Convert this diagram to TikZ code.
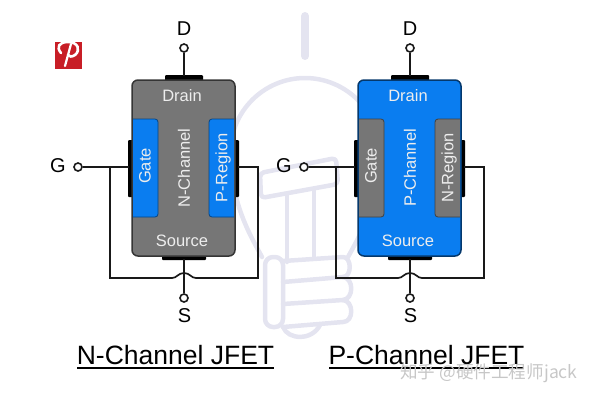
\documentclass[tikz,border=0pt]{standalone}
\usepackage{fontspec}
\setmainfont{Liberation Sans}
\newfontfamily\cjkfont{Noto Sans CJK SC}
\usetikzlibrary{arrows.meta,positioning,calc}
\definecolor{ChannelBlue}{RGB}{10,125,240}
\definecolor{BodyGray}{RGB}{118,118,118}
\definecolor{WireBlack}{RGB}{25,25,25}
\definecolor{BulbLine}{RGB}{228,228,240}
\definecolor{IconRed}{RGB}{200,30,38}
\tikzset{
  wire/.style={draw=WireBlack, line width=1.7pt},
  terminal/.style={circle, draw=WireBlack, fill=white, line width=1.6pt, minimum size=8pt, inner sep=0pt},
  pinlabel/.style={font=\fontsize{20}{20}\selectfont, text=black},
  partlabel/.style={font=\fontsize{16.5}{16.5}\selectfont, text=white!93!black, inner sep=0pt},
  titlelabel/.style={font=\fontsize{26.5}{26.5}\selectfont, text=black, inner sep=0pt},
  bulb/.style={draw=BulbLine, line width=4.5pt, line cap=round, line join=round},
  contact/.style={fill=black, rounded corners=1pt}
}
% one transistor: #1 x offset, #2 body colour, #3 region colour, #4 channel text, #5 region text, #6 name
\newcommand{\jfetpart}[6]{
  \begin{scope}[xshift=#1]
    \fill[contact] (165,75) rectangle (203,82);
    \fill[contact] (162,254) rectangle (206,260);
    \fill[contact] (128,140) rectangle (134,197);
    \fill[contact] (233,140) rectangle (239,197);
    \path[fill=#2, rounded corners=6pt] (132,80) rectangle (235,256);
    \path[fill=#3, draw=#3!55!black, line width=0.8pt] (133,119) -- (155,119) to[out=0,in=90] (158,122) -- (158,214) to[out=-90,in=0] (155,217) -- (133,217);
    \path[fill=#3, draw=#3!55!black, line width=0.8pt] (234,217) -- (212,217) to[out=180,in=-90] (209,214) -- (209,122) to[out=90,in=180] (212,119) -- (234,119);
    \draw[draw=#2!45!black, line width=1.5pt, rounded corners=6pt] (132,80) rectangle (235,256);
    \node[partlabel] (drain#6) at (182,96) {Drain};
    \node[partlabel] (source#6) at (182,241) {Source};
    \node[partlabel, rotate=90] (gate#6) at (145,166) {Gate};
    \node[partlabel, rotate=90] (channel#6) at (184,168) {#4};
    \node[partlabel, rotate=90] (region#6) at (223,168) {#5};
    \node[terminal] (d#6) at (184,48) {};
    \node[terminal] (s#6) at (184,298) {};
    \node[terminal] (g#6) at (78,167) {};
    \node[pinlabel] (dl#6) at (184,29) {D};
    \node[pinlabel] (sl#6) at (184.5,316) {S};
    \node[pinlabel] (gl#6) at (58,166) {G};
    \coordinate (gin#6) at (129,167);
    \coordinate (gout#6) at (238,167);
    \coordinate (stop#6) at (184,259);
    \coordinate (dbot#6) at (184,76);
    \draw[wire] (d#6) -- (dbot#6);
    \draw[wire] (stop#6) -- (s#6);
    \draw[wire] (g#6) -- (gin#6);
    \draw[wire] (110,167) -- (110,278) -- (172,278) .. controls (177,278) and (178,273) .. (184,273) .. controls (190,273) and (191,278) .. (196,278) -- (258,278) -- (258,167) -- (gout#6);
  \end{scope}
}
\begin{document}
\begin{tikzpicture}[x=1pt,y=-1pt]
\useasboundingbox (0,0) rectangle (594,400);
% watermark bulb
\draw[bulb, line width=8pt] (305,16) -- (305,56);
\draw[bulb] (262,257) .. controls (250,235) and (232,205) .. (230,155) .. controls (230,110) and (265,78) .. (305,78) .. controls (345,78) and (380,110) .. (380,155) .. controls (378,205) and (360,235) .. (348,257);
\draw[bulb, rounded corners=4pt] (260,173) -- (336,158) -- (338,184) -- (261,198) -- cycle;
\draw[bulb] (287,195) -- (287,262) (314,190) -- (314,258);
\draw[bulb, rounded corners=8pt] (265,257) rectangle (283,327);
\draw[bulb] (283,261) -- (343,257) .. controls (352,257) and (352,277) .. (343,277) -- (283,282);
\draw[bulb] (343,277) .. controls (354,278) and (354,299) .. (343,300) -- (283,304);
\draw[bulb] (343,300) .. controls (354,301) and (354,322) .. (343,322) -- (283,327);
\draw[bulb] (283,327) .. controls (288,340) and (312,341) .. (320,325);
% pinterest mark
\fill[IconRed] (55,42) rectangle (82,69);
\draw[white, line width=2.6pt, line cap=round] (61,53) .. controls (56,47) and (59,42) .. (68,42) .. controls (78,42) and (81,50) .. (75,55) .. controls (72,57) and (69,57) .. (68,55);
\draw[white, line width=2.2pt, line cap=round] (71,44) -- (65,66);
% transistors
\jfetpart{0}{BodyGray}{ChannelBlue}{N-Channel}{P-Region}{n}
\jfetpart{226}{ChannelBlue}{BodyGray}{P-Channel}{N-Region}{p}
% titles
\node[titlelabel] (titlen) at (175.5,355) {N-Channel JFET};
\node[titlelabel] (titlep) at (426.5,355) {P-Channel JFET};
\coordinate (ulna) at (77,368);
\coordinate (ulnb) at (274,368);
\coordinate (ulpa) at (329,368);
\coordinate (ulpb) at (524,368);
\draw[black, line width=1.2pt] (ulna) -- (ulnb);
\draw[black, line width=1.2pt] (ulpa) -- (ulpb);
% site mark
\node[font=\cjkfont\fontsize{17.6}{17.6}\selectfont, text=black!22, inner sep=0pt] (site) at (489,373) {知乎 @硬件工程师jack};
\end{tikzpicture}
\end{document}
